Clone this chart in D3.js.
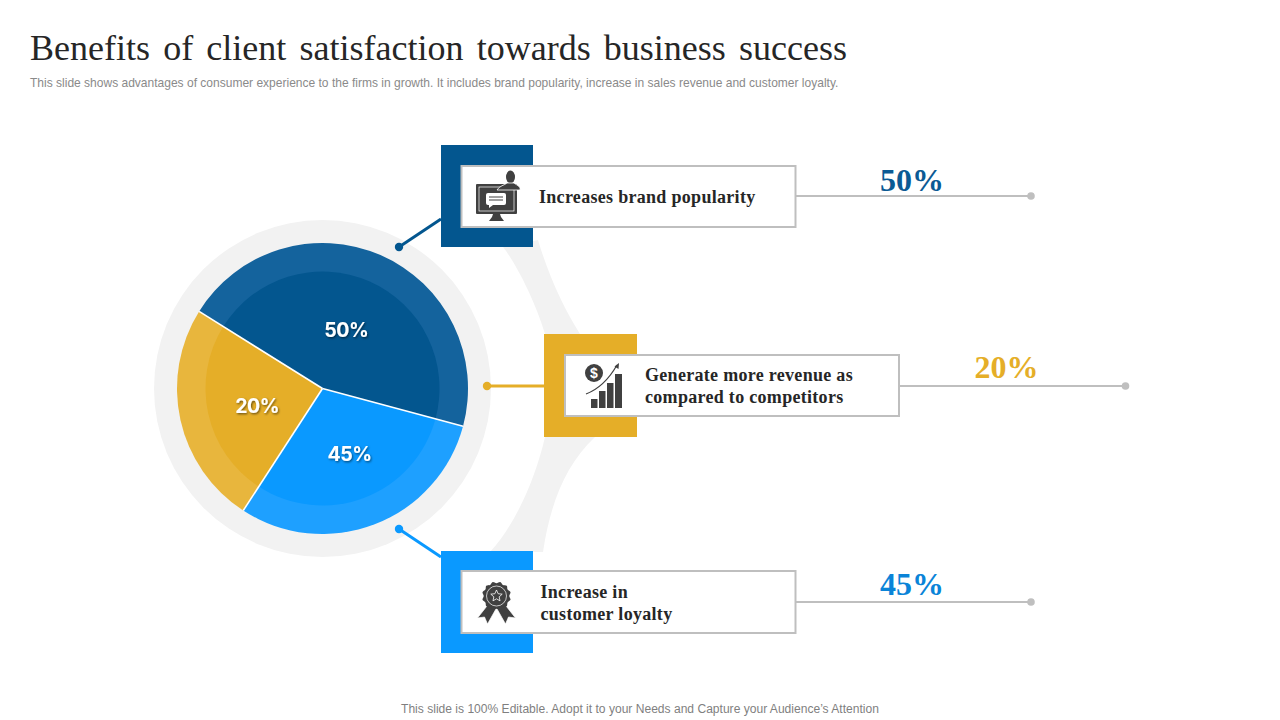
<!DOCTYPE html>
<html><head><meta charset="utf-8">
<script src="https://cdn.jsdelivr.net/npm/d3@7"></script>
<style>html,body{margin:0;padding:0;background:#fff;overflow:hidden}svg{display:block}</style>
</head><body><svg id="c" width="1280" height="720"></svg>
<script>
const titleText = "Benefits of client satisfaction towards business success";
const subtitleText = "This slide shows advantages of consumer experience to the firms in growth. It includes brand popularity, increase in sales revenue and customer loyalty.";
const footerText = "This slide is 100% Editable. Adopt it to your Needs and Capture your Audience\u2019s Attention";
const categories = ["Increases brand popularity", "Generate more revenue as|compared to competitors", "Increase in|customer loyalty"];
const percentValues = [50, 20, 45];
// Slice sizes as drawn in the picture (degrees of the circle), which differ from the printed percentages
const sliceDegrees = [163, 89, 108];
const sliceOrder = [0, 2, 1];
const coreColors = ["#03568f", "#e5ae28", "#0a99ff"];
const rimColors = ["#14639d", "#e8b63d", "#1ea0ff"];
const valueColors = ["#0b5a94", "#e5ae28", "#0a84d8"];

const svg = d3.select("#c");
const defs = svg.append("defs");
const f = defs.append("filter").attr("id","ts").attr("x","-20%").attr("y","-20%").attr("width","140%").attr("height","150%");
f.append("feDropShadow").attr("dx",1).attr("dy",1.2).attr("stdDeviation",0.9).attr("flood-color","#000").attr("flood-opacity",0.55);

const serif = "'Liberation Serif','Times New Roman',serif", sans = "'Liberation Sans',Arial,sans-serif";
svg.append("text").attr("x",30).attr("y",60).attr("font-family",serif).attr("font-size",36)
  .attr("fill","#262626").style("word-spacing","4.2px").text(titleText);
svg.append("text").attr("x",30).attr("y",87).attr("font-family",sans).attr("font-size",12.03)
  .attr("fill","#8a8a8a").text(subtitleText);
svg.append("text").attr("x",640).attr("y",713).attr("text-anchor","middle").attr("font-family",sans).attr("font-size",12.07)
  .attr("fill","#7f7f7f").text(footerText);

// grey connector band behind the callouts
const gray = "#f2f2f2";
svg.append("path").attr("fill",gray)
  .attr("d","M503,247 C515,262 535,300 545,334 L545,437 C535,480 515,525 490,552 L543,552 C550,505 565,465 595,437 L580,334 C565,310 550,280 538,240 Z");

const cx = 322.5, cy = 388.5;
const scene = svg.append("g").attr("transform",`translate(${cx},${cy})`);
scene.append("circle").attr("r",168.5).attr("fill",gray);

const rad = Math.PI/180;
const idx = d3.range(categories.length);
const pie = d3.pie().value(i=>sliceDegrees[i]).sort((a,b)=>sliceOrder[a]-sliceOrder[b]).startAngle(-58*rad).endAngle(302*rad);
const arcs = pie(idx);
const rimArc = d3.arc().innerRadius(0).outerRadius(145.5);
const coreArc = d3.arc().innerRadius(0).outerRadius(117);
const labelArc = d3.arc().innerRadius(67).outerRadius(67);
const labelNudgeX = [-3, 0, 3];
scene.selectAll(".rim").data(arcs).join("path").attr("class","rim").attr("d",rimArc).attr("fill",d=>rimColors[d.data]);
scene.selectAll(".core").data(arcs).join("path").attr("class","core").attr("d",coreArc).attr("fill",d=>coreColors[d.data]);
scene.selectAll(".sep").data(arcs).join("path").attr("class","sep").attr("fill","none").attr("stroke","#fff").attr("stroke-width",1.6)
  .attr("d",d=>{const a=d.startAngle;return `M0,0L${145.5*Math.sin(a)},${-145.5*Math.cos(a)}`;});
scene.selectAll(".pl").data(arcs).join("text").attr("class","pl")
  .attr("transform",d=>{const p=labelArc.centroid(d);return `translate(${p[0]+labelNudgeX[d.data]},${p[1]+3})`;})
  .attr("text-anchor","middle").attr("dy","0.36em").attr("font-family","Inter,sans-serif").attr("font-weight",700).attr("font-size",19.5)
  .style("letter-spacing","-0.5px").attr("fill","#fff").attr("filter","url(#ts)").text(d=>percentValues[d.data]+"%");

// callouts
const rowLayout = [
 {sq:[441,145,92,102], box:[461.5,166,334,61], dot:[399,247], join:[441,219], tx:539, ly:[197], vx:912, vy:191, lineY:196, lineEnd:1031},
 {sq:[544,334,93,103], box:[565,355,334,61], dot:[487,386], join:[544,386], tx:645, ly:[375,397], vx:1006.5, vy:378, lineY:386, lineEnd:1125.5},
 {sq:[441,551,92,102], box:[461.5,571,334,62], dot:[399,529], join:[441,557], tx:540.5, ly:[592,614], vx:912, vy:595, lineY:602, lineEnd:1031}
];
const rows = svg.selectAll(".row").data(idx).join("g").attr("class","row");
rows.each(function(i){
  const g = d3.select(this), L = rowLayout[i], c = coreColors[i];
  g.append("line").attr("x1",L.dot[0]).attr("y1",L.dot[1]).attr("x2",L.join[0]).attr("y2",L.join[1]).attr("stroke",c).attr("stroke-width",3);
  g.append("circle").attr("cx",L.dot[0]).attr("cy",L.dot[1]).attr("r",4.2).attr("fill",c);
  g.append("rect").attr("x",L.sq[0]).attr("y",L.sq[1]).attr("width",L.sq[2]).attr("height",L.sq[3]).attr("fill",c);
  g.append("line").attr("x1",L.box[0]+L.box[2]).attr("x2",L.lineEnd).attr("y1",L.lineY).attr("y2",L.lineY).attr("stroke","#bfbfbf").attr("stroke-width",2);
  g.append("circle").attr("cx",L.lineEnd).attr("cy",L.lineY).attr("r",3.8).attr("fill","#bfbfbf");
  g.append("rect").attr("x",L.box[0]).attr("y",L.box[1]).attr("width",L.box[2]).attr("height",L.box[3]).attr("fill","#fff").attr("stroke","#bfbfbf").attr("stroke-width",2);
  categories[i].split("|").forEach((t,k)=>{
    g.append("text").attr("x",L.tx).attr("y",L.ly[k]).attr("dy","0.33em").attr("font-family",serif).attr("font-weight",700)
      .attr("font-size",18).attr("fill","#262626").style("letter-spacing","0.3px").text(t);
  });
  g.append("text").attr("x",L.vx).attr("y",L.vy).attr("text-anchor","middle").attr("font-family",serif).attr("font-weight",700)
    .attr("font-size",32).attr("fill",valueColors[i]).text(percentValues[i]+"%");
});

// icons
const ink = "#404040";
const ic1 = svg.append("g").attr("transform","translate(476,170)");
ic1.append("rect").attr("x",0).attr("y",14).attr("width",41).attr("height",30).attr("rx",1).attr("fill",ink);
ic1.append("rect").attr("x",3).attr("y",17).attr("width",35).attr("height",24).attr("fill","none").attr("stroke","#fff").attr("stroke-width",0.7);
ic1.append("rect").attr("x",10).attr("y",23).attr("width",20).attr("height",12).attr("rx",2).attr("fill","#fff");
ic1.append("path").attr("d","M13,35l0,3l4,-3z").attr("fill","#fff");
ic1.append("path").attr("d","M13,27h14M13,30h14").attr("stroke",ink).attr("stroke-width",1);
ic1.append("path").attr("d","M17,44h7l1,3l3,4h-15l3,-4z").attr("fill",ink);
ic1.append("ellipse").attr("cx",34.5).attr("cy",7).attr("rx",4.5).attr("ry",6.5).attr("fill",ink);
ic1.append("path").attr("d","M21,20c2,-4 8,-5 10,-7h7c2,2 7,3 6,7z").attr("fill",ink).attr("stroke","#fff").attr("stroke-width",0.8);

const ic2 = svg.append("g").attr("transform","translate(585,363)");
ic2.append("circle").attr("cx",9).attr("cy",10).attr("r",9).attr("fill",ink);
ic2.append("text").attr("x",9).attr("y",15).attr("text-anchor","middle").attr("font-family",sans).attr("font-weight",700).attr("font-size",14).attr("fill","#fff").text("$");
ic2.append("path").attr("fill",ink).attr("d","M6,36h6.500v9h-6.500zM14,28h6.500v17h-6.500zM22,20h6.500v25h-6.500zM30,11h7v34h-7z");
ic2.append("path").attr("fill","none").attr("stroke",ink).attr("stroke-width",1.2).attr("d","M1,31C14,26 24,16 32,2");
ic2.append("path").attr("fill",ink).attr("d","M34,0l-.5,6l-4,-2.500z");

const ic3 = svg.append("g").attr("transform","translate(496.500,596)");
ic3.append("path").attr("fill",ink).attr("d","M-8,8L-19,22L-12,21L-9,28L0,12ZM8,8L19,22L12,21L9,28L0,12Z").attr("stroke","#fff").attr("stroke-width",0.7);
const seal = d3.range(24).map(k=>{const r=k%2?14.500:12.800,a=k*Math.PI/12;return [r*Math.sin(a),r*Math.cos(a)];});
ic3.append("path").attr("fill",ink).attr("d",d3.line().curve(d3.curveCatmullRomClosed)(seal));
ic3.append("circle").attr("r",10).attr("fill","none").attr("stroke","#fff").attr("stroke-width",0.7);
const star = d3.range(10).map(k=>{const r=k%2?2.800:6,a=k*Math.PI/5;return [r*Math.sin(a),-r*Math.cos(a)];});
ic3.append("path").attr("fill","none").attr("stroke","#fff").attr("stroke-width",0.8).attr("d",d3.line().curve(d3.curveLinearClosed)(star));
</script></body></html>
